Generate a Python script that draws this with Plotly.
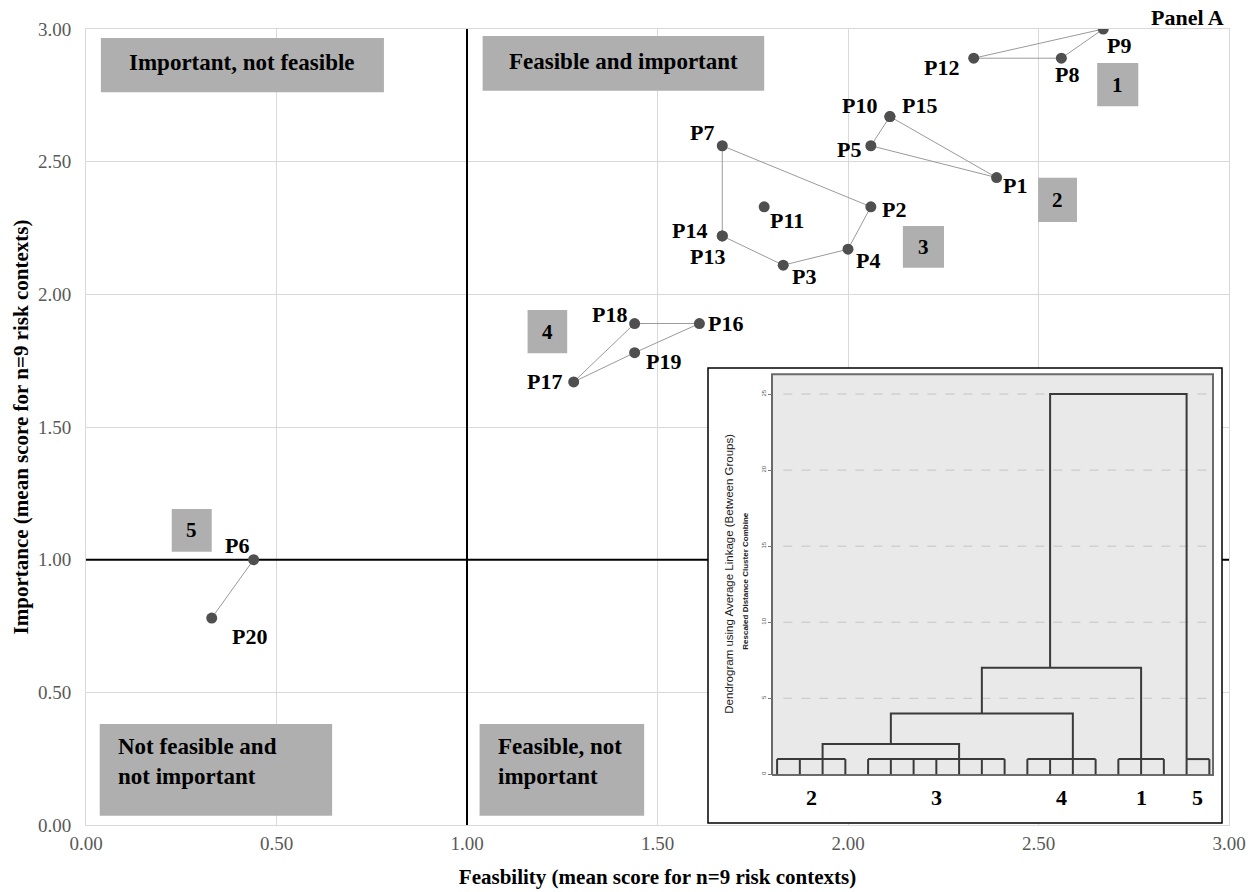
import plotly.graph_objects as go

# ---------------- data ----------------
point_names = ["P1", "P2", "P3", "P4", "P5", "P6", "P7", "P8", "P9", "P10",
               "P11", "P12", "P13", "P14", "P15", "P16", "P17", "P18", "P19", "P20"]
feasibility = [2.39, 2.06, 1.83, 2.00, 2.06, 0.44, 1.67, 2.56, 2.67, 2.11,
               1.78, 2.33, 1.67, 1.67, 2.11, 1.61, 1.28, 1.44, 1.44, 0.33]
importance = [2.44, 2.33, 2.11, 2.17, 2.56, 1.00, 2.56, 2.89, 3.00, 2.67,
              2.33, 2.89, 2.22, 2.22, 2.67, 1.89, 1.67, 1.89, 1.78, 0.78]

hull_1 = ["P12", "P9", "P8", "P12"]
hull_2 = ["P5", "P15", "P1", "P5"]
hull_3 = ["P7", "P2", "P4", "P3", "P14", "P7"]
hull_4 = ["P17", "P18", "P16", "P19", "P17"]
hull_5 = ["P6", "P20"]

feasibility_threshold = 1.0
importance_threshold = 1.0

axis_ticks = [0.0, 0.5, 1.0, 1.5, 2.0, 2.5, 3.0]
axis_tick_labels = ["0.00", "0.50", "1.00", "1.50", "2.00", "2.50", "3.00"]

quadrant_texts = ["Important, not feasible", "Feasible and important",
                  "Not feasible and<br>not important", "Feasible, not<br>important"]
cluster_numbers = ["1", "2", "3", "4", "5"]

# dendrogram (inset)
dendro_cluster_labels = ["2", "3", "4", "1", "5"]
dendro_cluster_sizes = [4, 7, 4, 3, 2]
dendro_leaf_height = 1
dendro_cluster_stem = [2, 8, 13, 16, 18]
dendro_merge_heights = [2, 4, 7, 25]
dendro_merge_stem = [5, 9, 12]
dendro_ticks = [0, 5, 10, 15, 20, 25]

# ---------------- styling / positions ----------------
SERIF = "Liberation Serif, Times New Roman, serif"
SANS = "Liberation Sans, Arial, sans-serif"
W, H = 1256, 892
ML, MR, MT, MB = 86, 27, 29, 67
PW, PH = W - ML - MR, H - MT - MB

def px_to_paper_x(px):
    return (px - ML) / PW

def px_to_paper_y(py):
    return (H - MB - py) / PH

# label offsets (px right, px down) for each point label
label_offsets = {
    "P1": (18, 8), "P2": (23, 3), "P3": (21, 11), "P4": (20, 11), "P5": (-22, 4),
    "P6": (-17, -14), "P7": (-20, -13), "P8": (6, 16), "P9": (16, 16), "P10": (-30, -11),
    "P11": (23, 14), "P12": (-32, 9), "P13": (-15, 21), "P14": (-33, -5), "P15": (30, -11),
    "P16": (26, 0), "P17": (-29, 0), "P18": (-25, -9), "P19": (29, 9), "P20": (38, 18),
}
# quadrant boxes: (x0, x1, y0, y1), text anchor x, text y, align
quadrant_boxes = [
    (0.039, 0.782, 2.762, 2.966, None, 2.872, "center"),
    (1.041, 1.780, 2.767, 2.974, None, 2.878, "center"),
    (0.036, 0.646, 0.035, 0.381, 0.078, 0.238, "left"),
    (1.033, 1.465, 0.035, 0.381, 1.075, 0.238, "left"),
]
cluster_boxes = [
    (2.654, 2.762, 2.709, 2.872),
    (2.499, 2.601, 2.273, 2.439),
    (2.144, 2.252, 2.100, 2.258),
    (1.159, 1.263, 1.778, 1.941),
    (0.225, 0.330, 1.030, 1.191),
]

fig = go.Figure()

# quadrant divider lines
fig.add_trace(go.Scatter(x=[feasibility_threshold, feasibility_threshold],
                         y=[axis_ticks[0], axis_ticks[-1]], mode="lines",
                         line=dict(color="black", width=2), hoverinfo="skip", showlegend=False))
fig.add_trace(go.Scatter(x=[axis_ticks[0], axis_ticks[-1]],
                         y=[importance_threshold, importance_threshold], mode="lines",
                         line=dict(color="black", width=2), hoverinfo="skip", showlegend=False))

idx = {n: i for i, n in enumerate(point_names)}
for hull in [hull_1, hull_2, hull_3, hull_4, hull_5]:
    fig.add_trace(go.Scatter(x=[feasibility[idx[n]] for n in hull],
                             y=[importance[idx[n]] for n in hull], mode="lines",
                             line=dict(color="#9a9a9a", width=1), hoverinfo="skip",
                             showlegend=False))

fig.add_trace(go.Scatter(x=feasibility, y=importance, mode="markers", text=point_names,
                         marker=dict(color="#4f4f4f", size=11), showlegend=False))

annotations = []
for n, fx, iy in zip(point_names, feasibility, importance):
    dx, dy = label_offsets[n]
    annotations.append(dict(x=fx, y=iy, xref="x", yref="y", text=n, showarrow=False,
                            xshift=dx, yshift=-dy,
                            font=dict(family=SERIF, size=22, color="black", weight="bold")))

shapes = []
for (x0, x1, y0, y1, tx, ty, al), txt in zip(quadrant_boxes, quadrant_texts):
    shapes.append(dict(type="rect", xref="x", yref="y", x0=x0, x1=x1, y0=y0, y1=y1,
                       fillcolor="#afafaf", line=dict(width=0), layer="above"))
    if al == "center":
        annotations.append(dict(x=(x0 + x1) / 2, y=ty, xref="x", yref="y", text=txt,
                                showarrow=False, xanchor="center", yanchor="middle",
                                font=dict(family=SERIF, size=23, color="black", weight="bold")))
    else:
        annotations.append(dict(x=tx, y=ty, xref="x", yref="y", text=txt, align="left",
                                showarrow=False, xanchor="left", yanchor="middle",
                                font=dict(family=SERIF, size=23, color="black", weight="bold")))

for (x0, x1, y0, y1), txt in zip(cluster_boxes, cluster_numbers):
    shapes.append(dict(type="rect", xref="x", yref="y", x0=x0, x1=x1, y0=y0, y1=y1,
                       fillcolor="#afafaf", line=dict(width=0), layer="above"))
    annotations.append(dict(x=(x0 + x1) / 2, y=(y0 + y1) / 2, xref="x", yref="y", text=txt,
                            showarrow=False, xanchor="center", yanchor="middle",
                            font=dict(family=SERIF, size=21, color="black", weight="bold")))

annotations.append(dict(x=px_to_paper_x(1226), y=px_to_paper_y(17), xref="paper", yref="paper",
                        text="Panel A", showarrow=False, xanchor="right", yanchor="middle",
                        font=dict(family=SERIF, size=22, color="black", weight="bold")))

# ---------------- inset dendrogram ----------------
BOX_L, BOX_R, BOX_T, BOX_B = 708, 1222, 368, 823
IN_L, IN_R = 772, 1213
LEAF0_PX, LEAF_STEP = 777.1, 22.75
Y0_PX, Y_UNIT = 774.3, 15.21

x2_range = [-(LEAF0_PX - BOX_L) / LEAF_STEP, (BOX_R - LEAF0_PX) / LEAF_STEP]
y2_range = [-(BOX_B - Y0_PX) / Y_UNIT, (Y0_PX - BOX_T) / Y_UNIT]
x2_dom = [px_to_paper_x(BOX_L), px_to_paper_x(BOX_R)]
y2_dom = [px_to_paper_y(BOX_B), px_to_paper_y(BOX_T)]
in_x0 = (IN_L - LEAF0_PX) / LEAF_STEP
in_x1 = (IN_R - LEAF0_PX) / LEAF_STEP
in_y0, in_y1 = -0.05, 26.3

# inner gray area (as a filled trace so it sits inside the inset subplot)
fig.add_trace(go.Scatter(x=[in_x0, in_x1, in_x1, in_x0, in_x0],
                         y=[in_y0, in_y0, in_y1, in_y1, in_y0],
                         mode="lines", fill="toself", fillcolor="#e9e9e9",
                         line=dict(color="#6a6a6a", width=2), xaxis="x2", yaxis="y2",
                         hoverinfo="skip", showlegend=False))
gx, gy = [], []
for t in dendro_ticks[1:]:
    gx += [in_x0 + 0.5, in_x1 - 0.1, None]
    gy += [t, t, None]
fig.add_trace(go.Scatter(x=gx, y=gy, mode="lines", xaxis="x2", yaxis="y2",
                         line=dict(color="#c4c4c4", width=1, dash="dash"),
                         hoverinfo="skip", showlegend=False))

# outer black border
shapes.append(dict(type="rect", xref="x2 domain", yref="y2 domain", x0=0, x1=1, y0=0, y1=1,
                   fillcolor="rgba(0,0,0,0)", line=dict(color="black", width=1.5),
                   layer="above"))

dx_, dy_ = [], []
start = 0
group_centers = []
for size in dendro_cluster_sizes:
    leaves = list(range(start, start + size))
    dx_ += [leaves[0], leaves[-1], None]
    dy_ += [dendro_leaf_height, dendro_leaf_height, None]
    for lf in leaves:
        dx_ += [lf, lf, None]
        dy_ += [0, dendro_leaf_height, None]
    group_centers.append((leaves[0] + leaves[-1]) / 2)
    start += size

cur_stem, cur_base = dendro_cluster_stem[0], dendro_leaf_height
for k, h in enumerate(dendro_merge_heights):
    other = dendro_cluster_stem[k + 1]
    dx_ += [cur_stem, cur_stem, other, other, None]
    dy_ += [cur_base, h, h, dendro_leaf_height, None]
    if k < len(dendro_merge_stem):
        cur_stem, cur_base = dendro_merge_stem[k], h

fig.add_trace(go.Scatter(x=dx_, y=dy_, mode="lines", xaxis="x2", yaxis="y2",
                         line=dict(color="#3a3a3a", width=2), hoverinfo="skip",
                         showlegend=False))

for c, lab in zip(group_centers, dendro_cluster_labels):
    annotations.append(dict(x=c, y=-1.5, xref="x2", yref="y2", text=lab, showarrow=False,
                            xanchor="center", yanchor="middle",
                            font=dict(family=SERIF, size=22, color="black", weight="bold")))

annotations.append(dict(x=px_to_paper_x(728.7), y=px_to_paper_y(574), xref="paper",
                        yref="paper", text="Dendrogram using Average Linkage (Between Groups)",
                        textangle=-90, showarrow=False, xanchor="center", yanchor="middle",
                        font=dict(family=SANS, size=11.5, color="#222")))
annotations.append(dict(x=px_to_paper_x(744.7), y=px_to_paper_y(581), xref="paper",
                        yref="paper", text="Rescaled Distance Cluster Combine",
                        textangle=-90, showarrow=False, xanchor="center", yanchor="middle",
                        font=dict(family=SANS, size=8, color="#222", weight="bold")))

tick_font = dict(family=SERIF, size=19, color="#595959")
title_font = dict(family=SERIF, size=21, color="black", weight="bold")

fig.update_layout(
    width=W, height=H,
    margin=dict(l=ML, r=MR, t=MT, b=MB, autoexpand=False),
    paper_bgcolor="white", plot_bgcolor="white",
    showlegend=False,
    xaxis=dict(domain=[0, 1], range=[axis_ticks[0], axis_ticks[-1]], tickvals=axis_ticks,
               ticktext=axis_tick_labels, tickfont=tick_font, showgrid=True,
               gridcolor="#d9d9d9", gridwidth=1, zeroline=False, showline=True, mirror=True,
               linecolor="#d9d9d9", linewidth=1, ticks="", ticklabelstandoff=1,
               title=dict(text="Feasbility (mean score for n=9 risk contexts)",
                          font=title_font, standoff=16)),
    yaxis=dict(domain=[0, 1], range=[axis_ticks[0], axis_ticks[-1]], tickvals=axis_ticks,
               ticktext=axis_tick_labels, tickfont=tick_font, showgrid=True,
               gridcolor="#d9d9d9", gridwidth=1, zeroline=False, showline=True, mirror=True,
               linecolor="#d9d9d9", linewidth=1, ticks="", ticklabelstandoff=10,
               title=dict(text="Importance (mean score for n=9 risk contexts)",
                          font=title_font, standoff=3)),
    xaxis2=dict(domain=x2_dom, range=x2_range, anchor="y2", showgrid=False, zeroline=False,
                showticklabels=False, ticks="", showline=False),
    yaxis2=dict(domain=y2_dom, range=y2_range, anchor="free",
                position=px_to_paper_x(IN_L), showgrid=False, zeroline=False,
                showline=False, tickvals=dendro_ticks, ticks="outside", ticklen=4,
                tickcolor="#777", tickangle=-90,
                tickfont=dict(family=SANS, size=6, color="#555")),
    shapes=shapes,
    annotations=annotations,
)

fig.write_html("out.html")
